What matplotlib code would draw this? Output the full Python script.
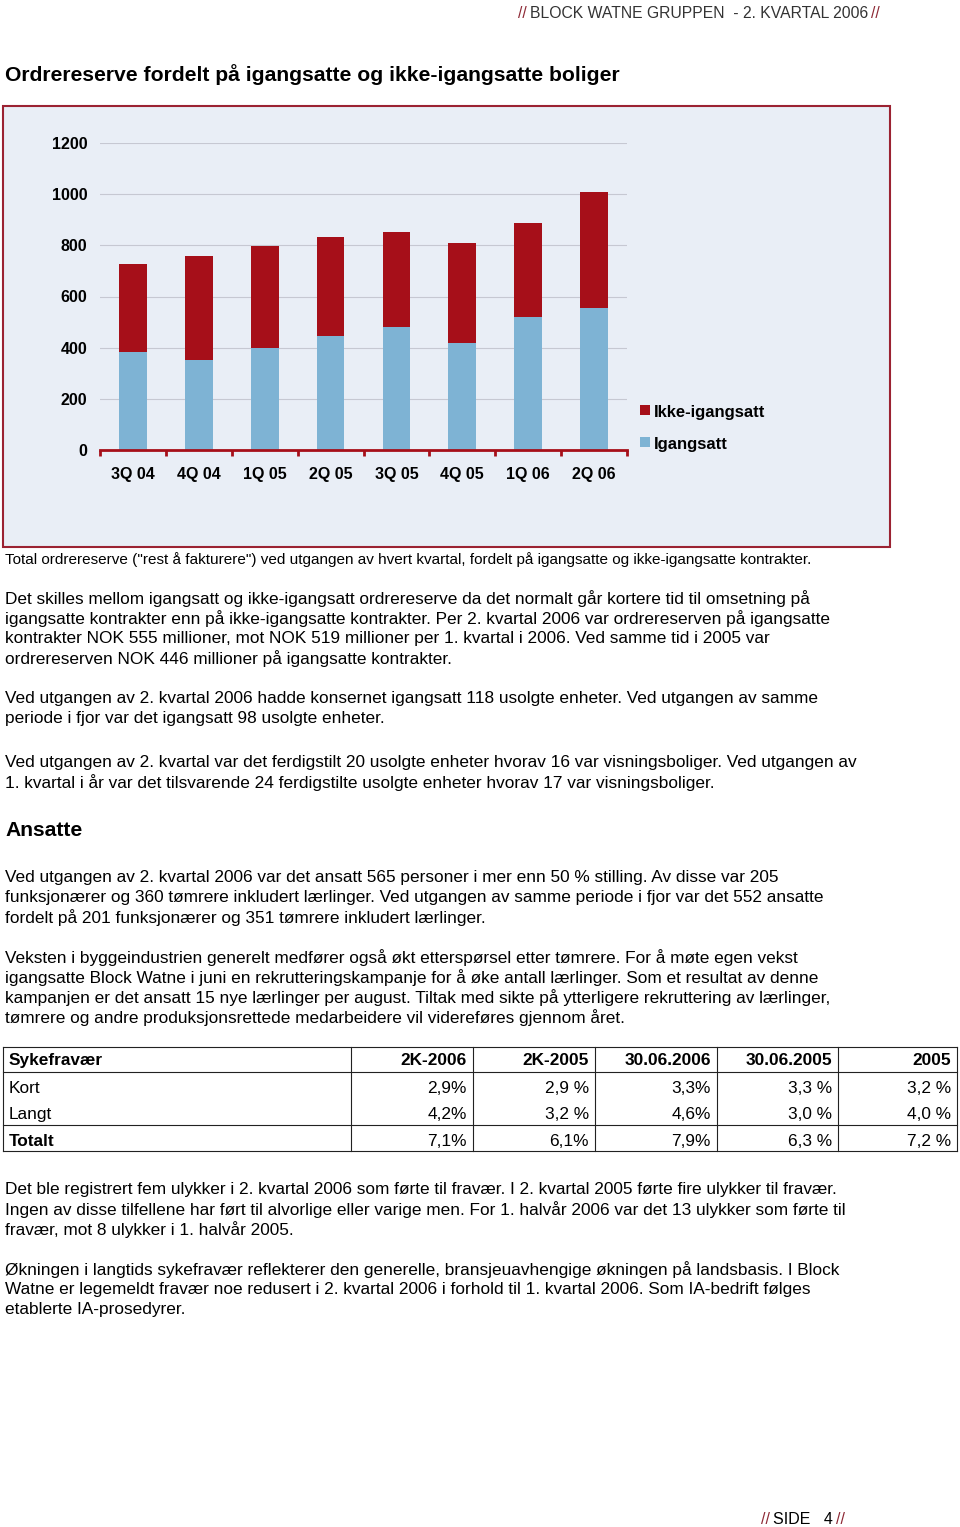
import matplotlib.pyplot as plt
import numpy as np
from matplotlib.patches import Rectangle
from matplotlib.lines import Line2D

plt.rcParams['font.family'] = ['Liberation Sans', 'DejaVu Sans']

# chart data (NOK mill.)
kvartaler = ['3Q 04', '4Q 04', '1Q 05', '2Q 05', '3Q 05', '4Q 05', '1Q 06', '2Q 06']
igangsatt = [382, 350, 399, 446, 479, 417, 519, 555]
ikke_igangsatt = [346, 408, 398, 386, 374, 392, 368, 453]
yticks = [0, 200, 400, 600, 800, 1000, 1200]

# table data
kolonner = ['Sykefravær', '2K-2006', '2K-2005', '30.06.2006', '30.06.2005', '2005']
rader = ['Kort', 'Langt', 'Totalt']
kort = ['2,9%', '2,9 %', '3,3%', '3,3 %', '3,2 %']
langt = ['4,2%', '3,2 %', '4,6%', '3,0 %', '4,0 %']
totalt = ['7,1%', '6,1%', '7,9%', '6,3 %', '7,2 %']

RED = '#A60F19'
BLUE = '#7EB3D4'
DARKRED = '#8E2A36'
BODY = 12.4

W, H = 960, 1527
fig = plt.figure(figsize=(9.6, 15.27), dpi=100)


def fx(x):
    return x / W


def fy(y):
    return 1 - y / H


def txt(x, y, s, size=BODY, weight='normal', color='black', ha='left'):
    return fig.text(fx(x), fy(y), s, fontsize=size, fontweight=weight,
                    color=color, ha=ha, va='center_baseline')


# header: "// BLOCK WATNE GRUPPEN  - 2. KVARTAL 2006 //"
renderer = fig.canvas.get_renderer()
t = txt(880, 12, '//', size=11.3, color=DARKRED, ha='right')
x0 = t.get_window_extent(renderer).x0
t = txt(x0 - 3, 12, 'BLOCK WATNE GRUPPEN  - 2. KVARTAL 2006', size=11.3, color='#333333', ha='right')
x0 = t.get_window_extent(renderer).x0
txt(x0 - 3, 12, '//', size=11.3, color=DARKRED, ha='right')

# title
txt(5, 73, 'Ordrereserve fordelt på igangsatte og ikke-igangsatte boliger', size=15.2, weight='bold')

# chart panel
fig.patches.append(Rectangle((fx(3), fy(547)), fx(890) - fx(3), fy(106) - fy(547),
                             transform=fig.transFigure, facecolor='#E9EEF6',
                             edgecolor='#9B2232', lw=1.5, zorder=-5))

ax = fig.add_axes([fx(100), fy(450), fx(627) - fx(100), fy(143) - fy(450)])
ax.set_zorder(2)
ax.set_facecolor('none')
x = np.arange(len(kvartaler))
ax.bar(x, igangsatt, 0.42, color=BLUE, zorder=2)
ax.bar(x, ikke_igangsatt, 0.42, bottom=igangsatt, color=RED, zorder=2)
ax.set_xlim(-0.5, len(kvartaler) - 0.5)
ax.set_ylim(0, 1200)
ax.set_yticks(yticks)
ax.set_yticklabels([str(v) for v in yticks], fontsize=11.5, fontweight='bold')
ax.set_xticks(x)
ax.set_xticklabels(kvartaler, fontsize=11.5, fontweight='bold')
ax.set_xticks(np.arange(len(kvartaler) + 1) - 0.5, minor=True)
ax.tick_params(axis='y', length=0, pad=9)
ax.tick_params(axis='x', which='major', length=0, pad=12)
ax.tick_params(axis='x', which='minor', length=4, width=2, color=RED, direction='out')
for s in ['left', 'top', 'right']:
    ax.spines[s].set_visible(False)
ax.spines['bottom'].set_color(RED)
ax.spines['bottom'].set_linewidth(2)
ax.spines['bottom'].set_zorder(3)
ax.yaxis.grid(True, color='#C6C8D2', lw=0.8)
ax.set_axisbelow(True)

# legend
for yy, col, lab in [(410, RED, 'Ikke-igangsatt'), (442, BLUE, 'Igangsatt')]:
    fig.patches.append(Rectangle((fx(640), fy(yy + 5)), fx(10), fy(0) - fy(10),
                                 transform=fig.transFigure, facecolor=col, lw=0))
    txt(654, yy + 1, lab, size=12, weight='bold')

# caption
txt(5, 558, 'Total ordrereserve ("rest å fakturere") ved utgangen av hvert kvartal, fordelt på igangsatte og ikke-igangsatte kontrakter.', size=11)

avsnitt = [
    (597, ['Det skilles mellom igangsatt og ikke-igangsatt ordrereserve da det normalt går kortere tid til omsetning på',
           'igangsatte kontrakter enn på ikke-igangsatte kontrakter. Per 2. kvartal 2006 var ordrereserven på igangsatte',
           'kontrakter NOK 555 millioner, mot NOK 519 millioner per 1. kvartal i 2006. Ved samme tid i 2005 var',
           'ordrereserven NOK 446 millioner på igangsatte kontrakter.']),
    (697, ['Ved utgangen av 2. kvartal 2006 hadde konsernet igangsatt 118 usolgte enheter. Ved utgangen av samme',
           'periode i fjor var det igangsatt 98 usolgte enheter.']),
    (761, ['Ved utgangen av 2. kvartal var det ferdigstilt 20 usolgte enheter hvorav 16 var visningsboliger. Ved utgangen av',
           '1. kvartal i år var det tilsvarende 24 ferdigstilte usolgte enheter hvorav 17 var visningsboliger.']),
    (876, ['Ved utgangen av 2. kvartal 2006 var det ansatt 565 personer i mer enn 50 % stilling. Av disse var 205',
           'funksjonærer og 360 tømrere inkludert lærlinger. Ved utgangen av samme periode i fjor var det 552 ansatte',
           'fordelt på 201 funksjonærer og 351 tømrere inkludert lærlinger.']),
    (956, ['Veksten i byggeindustrien generelt medfører også økt etterspørsel etter tømrere. For å møte egen vekst',
           'igangsatte Block Watne i juni en rekrutteringskampanje for å øke antall lærlinger. Som et resultat av denne',
           'kampanjen er det ansatt 15 nye lærlinger per august. Tiltak med sikte på ytterligere rekruttering av lærlinger,',
           'tømrere og andre produksjonsrettede medarbeidere vil videreføres gjennom året.']),
    (1188, ['Det ble registrert fem ulykker i 2. kvartal 2006 som førte til fravær. I 2. kvartal 2005 førte fire ulykker til fravær.',
            'Ingen av disse tilfellene har ført til alvorlige eller varige men. For 1. halvår 2006 var det 13 ulykker som førte til',
            'fravær, mot 8 ulykker i 1. halvår 2005.']),
    (1268, ['Økningen i langtids sykefravær reflekterer den generelle, bransjeuavhengige økningen på landsbasis. I Block',
            'Watne er legemeldt fravær noe redusert i 2. kvartal 2006 i forhold til 1. kvartal 2006. Som IA-bedrift følges',
            'etablerte IA-prosedyrer.']),
]
for y0, linjer in avsnitt:
    for i, linje in enumerate(linjer):
        txt(5, y0 + 20 * i, linje)

txt(5, 828, 'Ansatte', size=15.2, weight='bold')

# table
kol_x = [3, 351, 473, 595, 717, 838, 957]
rad_y = [1059, 1087, 1113, 1140]
for xx in kol_x:
    fig.add_artist(Line2D([fx(xx), fx(xx)], [fy(1047), fy(1151)], color='#222222', lw=0.8))
for yy in [1047, 1072, 1125, 1151]:
    fig.add_artist(Line2D([fx(3), fx(957)], [fy(yy), fy(yy)], color='#222222', lw=0.8))
for j, k in enumerate(kolonner):
    if j == 0:
        txt(9, rad_y[0], k, weight='bold')
    else:
        txt(kol_x[j + 1] - 6, rad_y[0], k, weight='bold', ha='right')
for i, (navn, verdier) in enumerate(zip(rader, [kort, langt, totalt])):
    w = 'bold' if navn == 'Totalt' else 'normal'
    txt(9, rad_y[i + 1], navn, weight=w)
    for j, v in enumerate(verdier):
        txt(kol_x[j + 2] - 6, rad_y[i + 1], v, ha='right')

# footer
t = txt(761, 1518, '//', size=11.5, color=DARKRED)
x1 = t.get_window_extent(renderer).x1
t = txt(x1 + 3, 1518, 'SIDE   4', size=11.5)
x1 = t.get_window_extent(renderer).x1
txt(x1 + 3, 1518, '//', size=11.5, color=DARKRED)

fig.savefig('out.png', dpi=100)
